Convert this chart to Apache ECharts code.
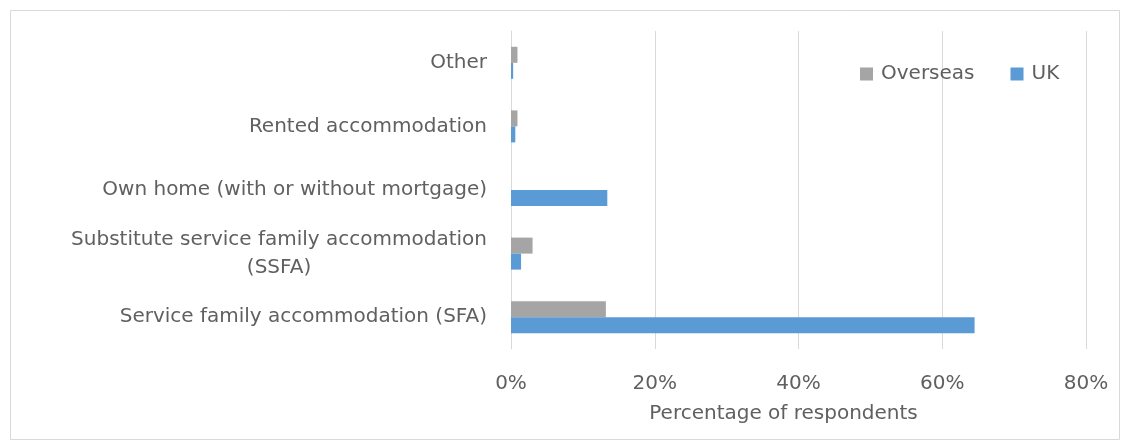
<!DOCTYPE html>
<html>
<head>
<meta charset="utf-8">
<script src="https://cdn.jsdelivr.net/npm/echarts@6/dist/echarts.min.js"></script>
<style>
html,body{margin:0;padding:0;background:#fff;}
#chart{width:1125px;height:443px;}
</style>
</head>
<body>
<div id="chart"></div>
<script>
const categories = [
  'Service family accommodation (SFA)',
  'Substitute service family accommodation\n(SSFA)',
  'Own home (with or without mortgage)',
  'Rented accommodation',
  'Other'
];
const ukValues = [64.5, 1.4, 13.4, 0.6, 0.3];
const overseasValues = [13.2, 3.0, 0, 0.9, 0.9];
const xTicks = [0, 20, 40, 60, 80];

const FONT = 'DejaVu Sans';
const FS = 20;
const TXT = '#606060';

const chart = echarts.init(document.getElementById('chart'));
chart.setOption({
  animation: false,
  backgroundColor: '#fff',
  graphic: [{
    type: 'rect', left: 8, top: 8,
    shape: {width: 1109, height: 429},
    style: {fill: 'none', stroke: '#d9d9d9', lineWidth: 1}
  }],
  legend: {
    data: ['Overseas', 'UK'],
    left: 855, top: 59,
    itemWidth: 13, itemHeight: 13, itemGap: 36,
    icon: 'rect',
    textStyle: {fontFamily: FONT, fontSize: FS, color: TXT, padding: [0, 0, 0, 3]}
  },
  grid: {left: 511, right: 39, top: 31, bottom: 94, containLabel: false},
  xAxis: {
    type: 'value', min: xTicks[0], max: xTicks[xTicks.length - 1], interval: 20,
    name: 'Percentage of respondents',
    nameLocation: 'middle', nameGap: 55,
    nameTextStyle: {fontFamily: FONT, fontSize: FS, color: TXT, padding: [0, 30, 0, 0]},
    axisLine: {show: false}, axisTick: {show: false},
    axisLabel: {margin: 25, fontFamily: FONT, fontSize: FS, color: TXT,
      formatter: v => v + '%'},
    splitLine: {lineStyle: {color: '#d9d9d9', width: 1}}
  },
  yAxis: {
    type: 'category', data: categories,
    axisLine: {show: true, lineStyle: {color: '#d9d9d9'}},
    axisTick: {show: false},
    axisLabel: {
      margin: 24, fontFamily: FONT, fontSize: FS, color: TXT, lineHeight: 28,
      formatter: function (v) {
        const parts = v.split('\n');
        if (parts.length === 1) return '{r|' + v + '}';
        return '{r|' + parts[0] + '}\n{c|' + parts[1] + '}';
      },
      rich: {
        r: {align: 'right', fontFamily: FONT, fontSize: FS, color: TXT, lineHeight: 28},
        c: {align: 'center', fontFamily: FONT, fontSize: FS, color: TXT, lineHeight: 28}
      }
    }
  },
  series: [
    {name: 'Overseas', type: 'bar', data: overseasValues, barWidth: 16, barGap: '0%',
     itemStyle: {color: '#a5a5a5'}},
    {name: 'UK', type: 'bar', data: ukValues, barWidth: 16, barGap: '0%',
     itemStyle: {color: '#5b9bd5'}}
  ]
});
</script>
</body>
</html>
